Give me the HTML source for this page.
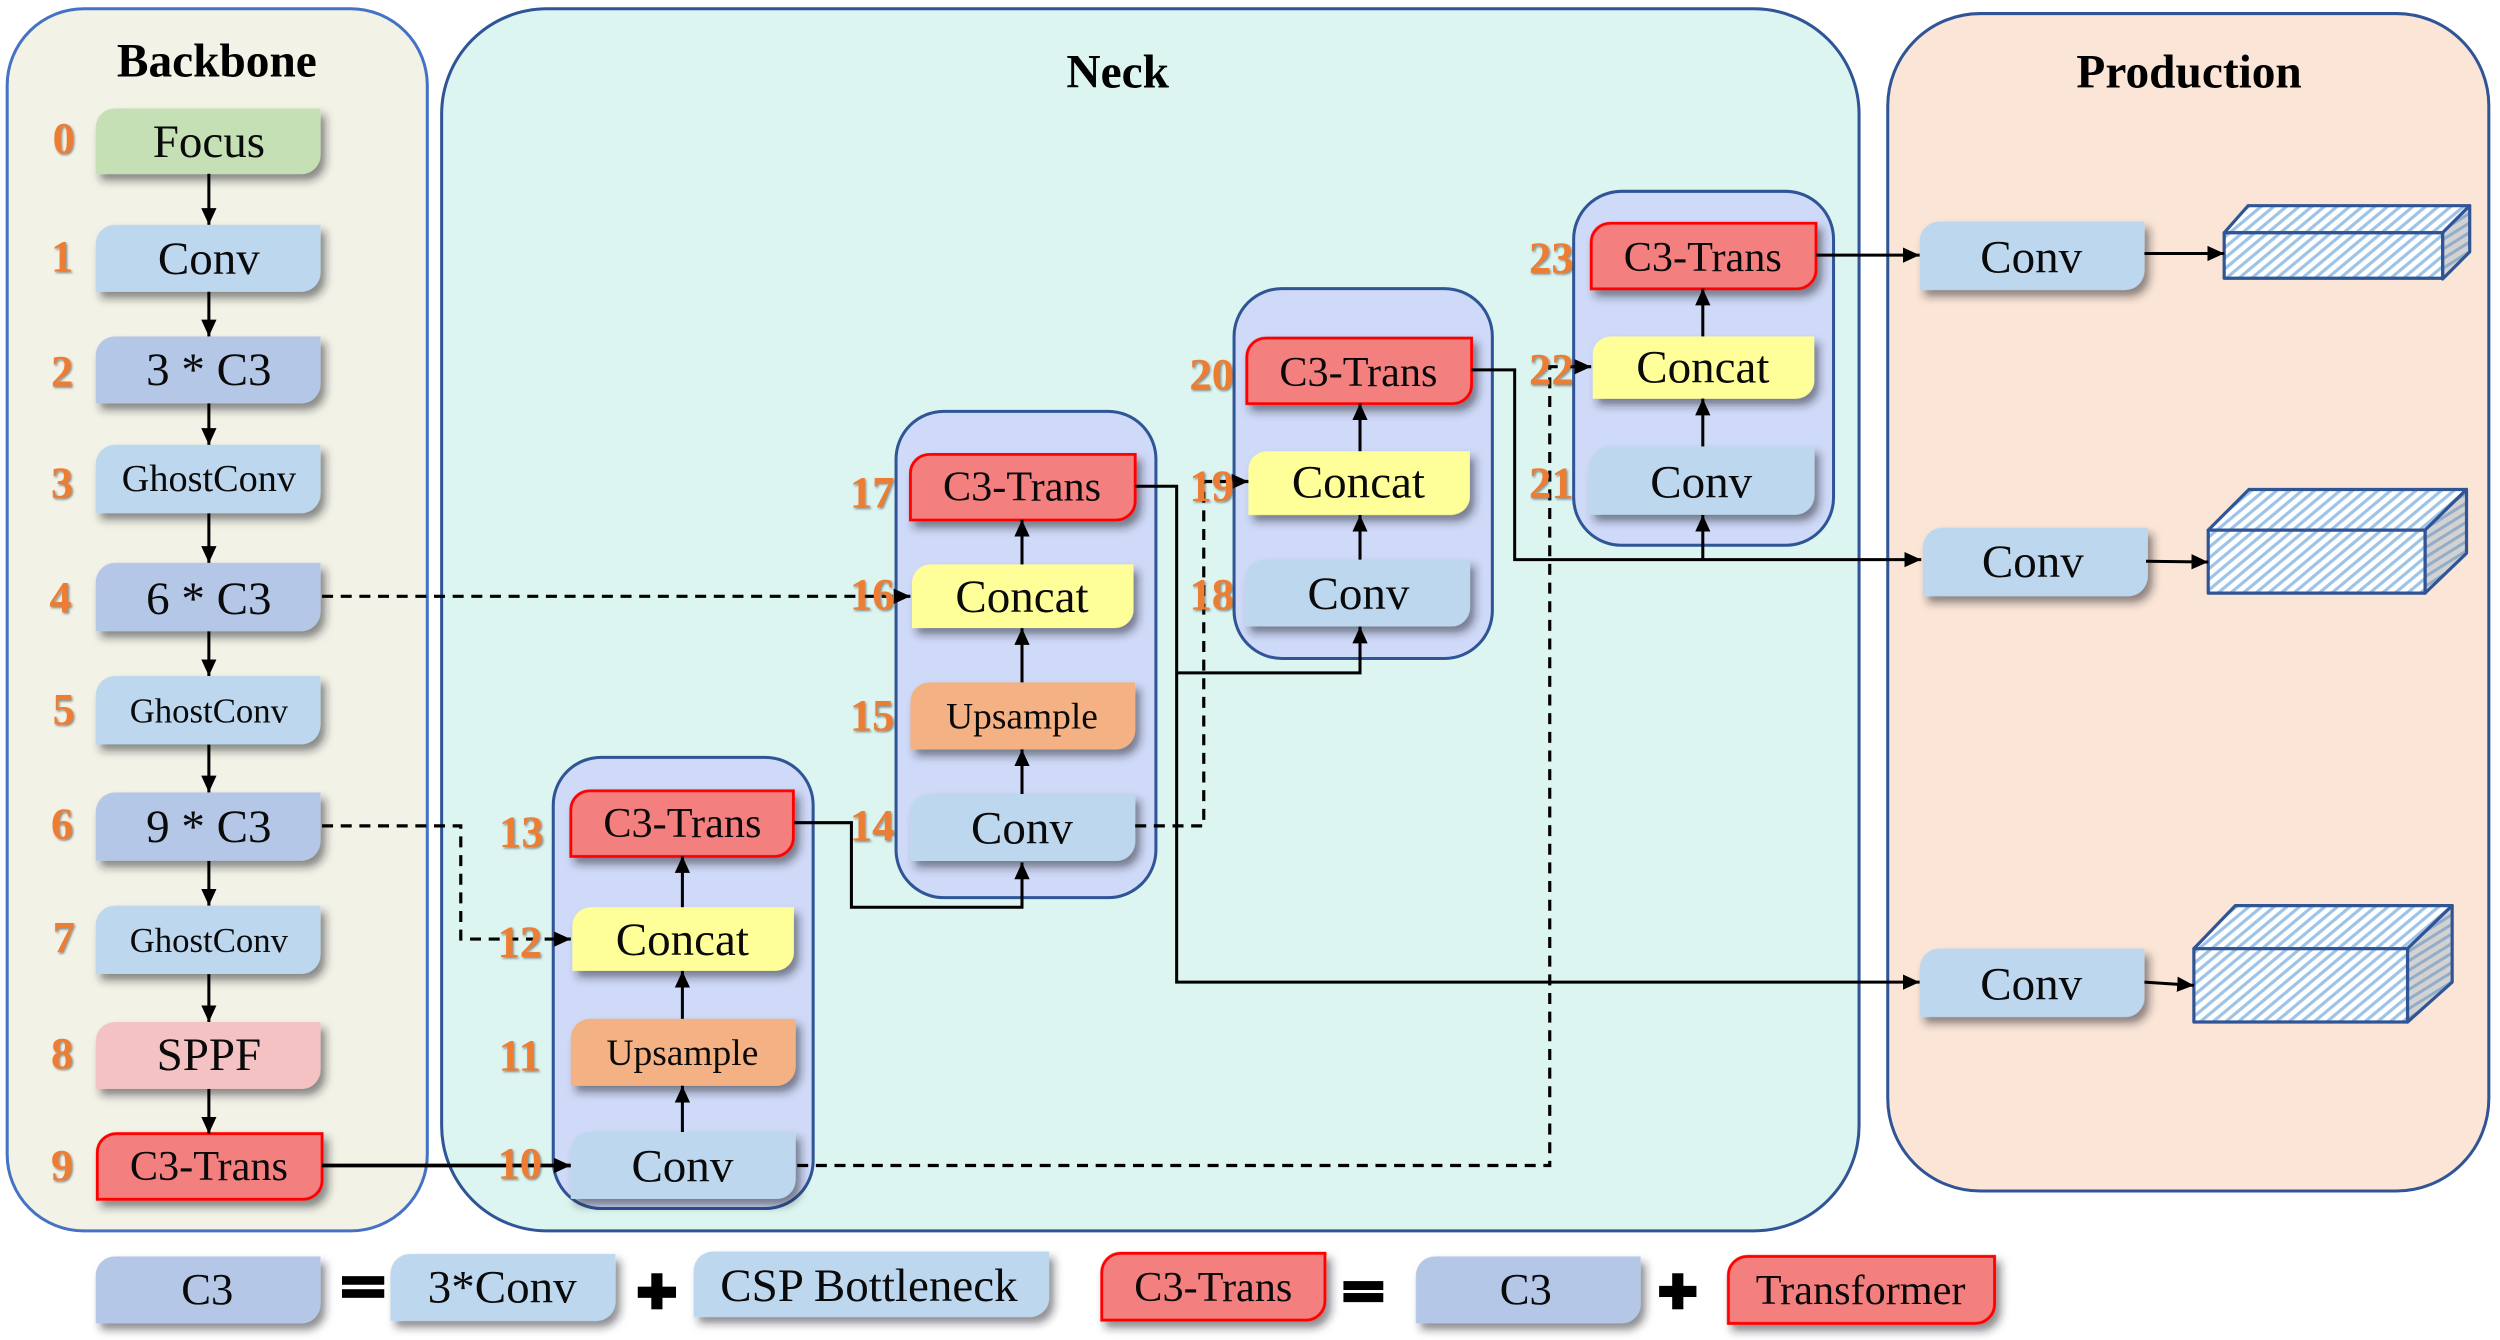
<!DOCTYPE html>
<html><head><meta charset="utf-8"><title>YOLO architecture diagram</title>
<style>
html,body{margin:0;padding:0;background:#fff;width:2500px;height:1340px;overflow:hidden}
svg{display:block}
text{font-family:"Liberation Serif",serif;fill:#0a0a0a;text-anchor:middle}
.t{font-size:29.5px}.g{font-size:24px}.g2{font-size:21.8px}.c{font-size:26.5px}.u{font-size:23.5px}
.h{font-size:29.7px;font-weight:bold;fill:#000}
.n text{font-size:28px;font-weight:bold;fill:#ed7d31}
.a{fill:none;stroke:#000;stroke-width:1.9;marker-end:url(#m)}
.d{fill:none;stroke:#000;stroke-width:2;stroke-dasharray:6.9 4.8;marker-end:url(#m)}
</style></head><body>
<svg xmlns="http://www.w3.org/2000/svg" width="2500" height="1340" viewBox="0 0 1568 840.45">
<defs>
<path id="b" d="M12 0H141V30A12 12 0 0 1 129 42H0V12A12 12 0 0 1 12 0Z"/>
<marker id="m" markerUnits="userSpaceOnUse" markerWidth="11" markerHeight="10" refX="10.5" refY="5" orient="auto"><path d="M0 0.2L10.5 5L0 9.8Z" fill="#000"/></marker>
<filter id="s" x="-2%" y="-2%" width="104%" height="104%"><feDropShadow dx="3" dy="4" stdDeviation="2.6" flood-color="#1a1a2a" flood-opacity=".52"/></filter>
<filter id="ts" x="-20%" y="-20%" width="140%" height="140%"><feDropShadow dx=".8" dy="1" stdDeviation=".7" flood-color="#444" flood-opacity=".6"/></filter>
<pattern id="hb" width="5.1" height="5.1" patternUnits="userSpaceOnUse" patternTransform="rotate(50)"><rect width="5.1" height="5.1" fill="#fff"/><rect width="2" height="5.1" fill="#9dc3e6"/></pattern>
<pattern id="hg" width="5.1" height="5.1" patternUnits="userSpaceOnUse" patternTransform="rotate(58)"><rect width="5.1" height="5.1" fill="#d2d2d2"/><rect width="1.9" height="5.1" fill="#93acc8"/></pattern>
</defs>
<rect width="1568" height="841" fill="#fff"/>

<!-- panels -->
<rect x="4.5" y="5.5" width="263.5" height="766.5" rx="48" fill="#f2f2e6" stroke="#4472c4" stroke-width="1.9"/>
<rect x="277" y="5.5" width="889" height="766.5" rx="66" fill="#dcf5f0" stroke="#2f5597" stroke-width="1.9"/>
<rect x="1184" y="8.5" width="377" height="738.5" rx="58" fill="#fbe5d6" stroke="#2f5597" stroke-width="1.9"/>
<text class="h" x="136" y="48">Backbone</text>
<text class="h" x="701" y="55">Neck</text>
<text class="h" x="1373" y="55">Production</text>

<!-- groups -->
<g fill="#cfdaf8" stroke="#2f5597" stroke-width="1.9">
<rect x="347" y="475" width="163" height="283" rx="30"/>
<rect x="562" y="258" width="163" height="305" rx="30"/>
<rect x="774" y="181" width="162" height="232" rx="30"/>
<rect x="987" y="120" width="163" height="222" rx="30"/>
</g>

<!-- boxes -->
<g filter="url(#s)">
<use href="#b" transform="translate(60 68) scale(1 .98)" fill="#c5e0b4"/>
<use href="#b" transform="translate(60 141)" fill="#bdd7ee"/>
<use href="#b" transform="translate(60 211)" fill="#b4c7e7"/>
<use href="#b" transform="translate(60 279) scale(1 1.02)" fill="#bdd7ee"/>
<use href="#b" transform="translate(60 353) scale(1 1.02)" fill="#b4c7e7"/>
<use href="#b" transform="translate(60 424) scale(1 1.02)" fill="#bdd7ee"/>
<use href="#b" transform="translate(60 497) scale(1 1.02)" fill="#b4c7e7"/>
<use href="#b" transform="translate(60 568) scale(1 1.02)" fill="#bdd7ee"/>
<use href="#b" transform="translate(60 641)" fill="#f4c2c2"/>
<use href="#b" transform="translate(61 711) scale(1 .98)" fill="#f47f7f" stroke="#f00" stroke-width="1.8"/>

<use href="#b" transform="translate(358 496) scale(.99 .98)" fill="#f47f7f" stroke="#f00" stroke-width="1.8"/>
<use href="#b" transform="translate(359 569) scale(.985 .95)" fill="#ffff99"/>
<use href="#b" transform="translate(358 639)" fill="#f4b183"/>
<use href="#b" transform="translate(358 710)" fill="#bdd7ee"/>

<use href="#b" transform="translate(571 285) scale(1 .98)" fill="#f47f7f" stroke="#f00" stroke-width="1.8"/>
<use href="#b" transform="translate(572 354) scale(.985 .95)" fill="#ffff99"/>
<use href="#b" transform="translate(571 428)" fill="#f4b183"/>
<use href="#b" transform="translate(571 498)" fill="#bdd7ee"/>

<use href="#b" transform="translate(782 212) scale(1 .98)" fill="#f47f7f" stroke="#f00" stroke-width="1.8"/>
<use href="#b" transform="translate(783 283) scale(.985 .95)" fill="#ffff99"/>
<use href="#b" transform="translate(781 351)" fill="#bdd7ee"/>

<use href="#b" transform="translate(998 140) scale(1 .98)" fill="#f47f7f" stroke="#f00" stroke-width="1.8"/>
<use href="#b" transform="translate(999 211) scale(.985 .93)" fill="#ffff99"/>
<use href="#b" transform="translate(997 280) scale(1 1.02)" fill="#bdd7ee"/>

<use href="#b" transform="translate(1204 139) scale(1 1.02)" fill="#bdd7ee"/>
<use href="#b" transform="translate(1206 331) scale(1 1.02)" fill="#bdd7ee"/>
<use href="#b" transform="translate(1204 595) scale(1 1.02)" fill="#bdd7ee"/>

<use href="#b" transform="translate(60 788)" fill="#b4c7e7"/>
<use href="#b" transform="translate(245 786.5)" fill="#bdd7ee"/>
<path d="M447 785H658V814A12 12 0 0 1 646 826H435V797A12 12 0 0 1 447 785Z" fill="#bdd7ee"/>
<use href="#b" transform="translate(691 786) scale(.993 1)" fill="#f47f7f" stroke="#f00" stroke-width="1.8"/>
<use href="#b" transform="translate(888 788)" fill="#b4c7e7"/>
<path d="M1096 788H1251V818A12 12 0 0 1 1239 830H1084V800A12 12 0 0 1 1096 788Z" fill="#f47f7f" stroke="#f00" stroke-width="1.8"/>
</g>

<!-- cuboids -->
<g stroke="#2f5597" stroke-width="2" stroke-linejoin="round">
<path d="M1395 146L1410 129H1549L1532 146Z" fill="url(#hb)"/>
<path d="M1532 146L1549 129V158L1532 175Z" fill="url(#hg)"/>
<rect x="1395" y="146" width="137" height="28.5" fill="url(#hb)"/>

<path d="M1385 332.5L1410.5 307H1547L1521 332.5Z" fill="url(#hb)"/>
<path d="M1521 332.5L1547 307V347L1521 372Z" fill="url(#hg)"/>
<rect x="1385" y="332.5" width="136" height="39.5" fill="url(#hb)"/>

<path d="M1376 595L1402 568H1538L1510 595Z" fill="url(#hb)"/>
<path d="M1510 595L1538 568V616L1510 641Z" fill="url(#hg)"/>
<rect x="1376" y="595" width="134" height="46" fill="url(#hb)"/>
</g>

<!-- connectors -->
<path class="a" d="M131 109V141"/><path class="a" d="M131 183V211"/><path class="a" d="M131 253V279"/>
<path class="a" d="M131 322V353"/><path class="a" d="M131 396V424"/><path class="a" d="M131 467V497"/>
<path class="a" d="M131 540V568"/><path class="a" d="M131 611V641"/><path class="a" d="M131 683V711"/>

<path class="a" style="stroke-width:2.3" d="M202 731H358"/>
<path class="d" d="M202 374H571"/>
<path class="d" d="M202 518H289V589H358"/>

<path class="a" d="M428 710V681"/><path class="a" d="M428 639V609"/><path class="a" d="M428 569V537"/>
<path class="a" d="M641 498V470"/><path class="a" d="M641 428V394"/><path class="a" d="M641 354V326"/>
<path class="a" d="M853 351V323"/><path class="a" d="M853 283V253"/>
<path class="a" d="M1068 280V250"/><path class="a" d="M1068 211V181"/>

<path class="a" d="M498 516H534V569H641V541"/>
<path class="a" d="M712 305H738V616H1204"/>
<path class="a" d="M738 422H853V393"/>
<path class="d" d="M712 518H755V302H783"/>
<path class="a" d="M923 232H950V351H1205"/>
<path class="a" d="M1068 351V323"/>
<path class="d" d="M500 731H972V230H998"/>
<path class="a" d="M1139 160H1204"/>
<path class="a" d="M1345 159H1395"/>
<path class="a" d="M1346 352L1385 352.5"/>
<path class="a" d="M1345 616L1376 618"/>

<!-- box labels -->
<text class="t" x="131" y="98.5">Focus</text>
<text class="t" x="131" y="172">Conv</text>
<text class="t" x="131" y="241.5">3 * C3</text>
<text class="g" x="131" y="308">GhostConv</text>
<text class="t" x="131" y="385">6 * C3</text>
<text class="g2" x="131" y="453">GhostConv</text>
<text class="t" x="131" y="528">9 * C3</text>
<text class="g2" x="131" y="597">GhostConv</text>
<text class="t" x="131" y="671">SPPF</text>
<text class="c" x="131" y="740">C3-Trans</text>

<text class="c" x="428" y="525">C3-Trans</text>
<text class="t" x="428" y="599">Concat</text>
<text class="u" x="428" y="668">Upsample</text>
<text class="t" x="428" y="741">Conv</text>

<text class="c" x="641" y="314">C3-Trans</text>
<text class="t" x="641" y="384">Concat</text>
<text class="u" x="641" y="457">Upsample</text>
<text class="t" x="641" y="529">Conv</text>

<text class="c" x="852" y="242">C3-Trans</text>
<text class="t" x="852" y="312">Concat</text>
<text class="t" x="852" y="382">Conv</text>

<text class="c" x="1068" y="170">C3-Trans</text>
<text class="t" x="1068" y="240">Concat</text>
<text class="t" x="1067" y="312">Conv</text>

<text class="t" x="1274" y="171">Conv</text>
<text class="t" x="1275" y="362">Conv</text>
<text class="t" x="1274" y="627">Conv</text>

<!-- legend -->
<text class="t" style="font-size:28px" x="130" y="818">C3</text>
<text class="t" x="315" y="817">3*Conv</text>
<text class="t" x="545" y="816">CSP Bottleneck</text>
<text class="c" x="761" y="816">C3-Trans</text>
<text class="t" style="font-size:28px" x="957" y="818">C3</text>
<text class="c" x="1167" y="818">Transformer</text>
<g fill="#000">
<rect x="214.5" y="800.4" width="26.5" height="5.4"/><rect x="214.5" y="808.6" width="26.5" height="5.4"/>
<rect x="400" y="807" width="24" height="7"/><rect x="408.5" y="798.6" width="7" height="22.6"/>
<rect x="842.6" y="803.5" width="25" height="5.6"/><rect x="842.6" y="811" width="25" height="5.7"/>
<rect x="1040.6" y="806.5" width="23.4" height="7"/><rect x="1048.8" y="798.6" width="7" height="22.6"/>
</g>

<!-- layer numbers -->
<g class="n" filter="url(#ts)">
<text x="40" y="96">0</text><text x="39" y="170">1</text><text x="39" y="242">2</text><text x="39" y="312">3</text>
<text x="38" y="384">4</text><text x="40" y="454">5</text><text x="39" y="526">6</text><text x="40" y="597">7</text>
<text x="39" y="670">8</text><text x="39" y="740">9</text>
<text x="326" y="739">10</text><text x="326" y="671">11</text><text x="326" y="600">12</text><text x="327" y="531">13</text>
<text x="547" y="527">14</text><text x="547" y="458">15</text><text x="547" y="382">16</text><text x="547" y="318">17</text>
<text x="760" y="382">18</text><text x="760" y="314">19</text><text x="760" y="244">20</text>
<text x="973" y="312">21</text><text x="973" y="241">22</text><text x="973" y="171">23</text>
</g>
</svg>
</body></html>
